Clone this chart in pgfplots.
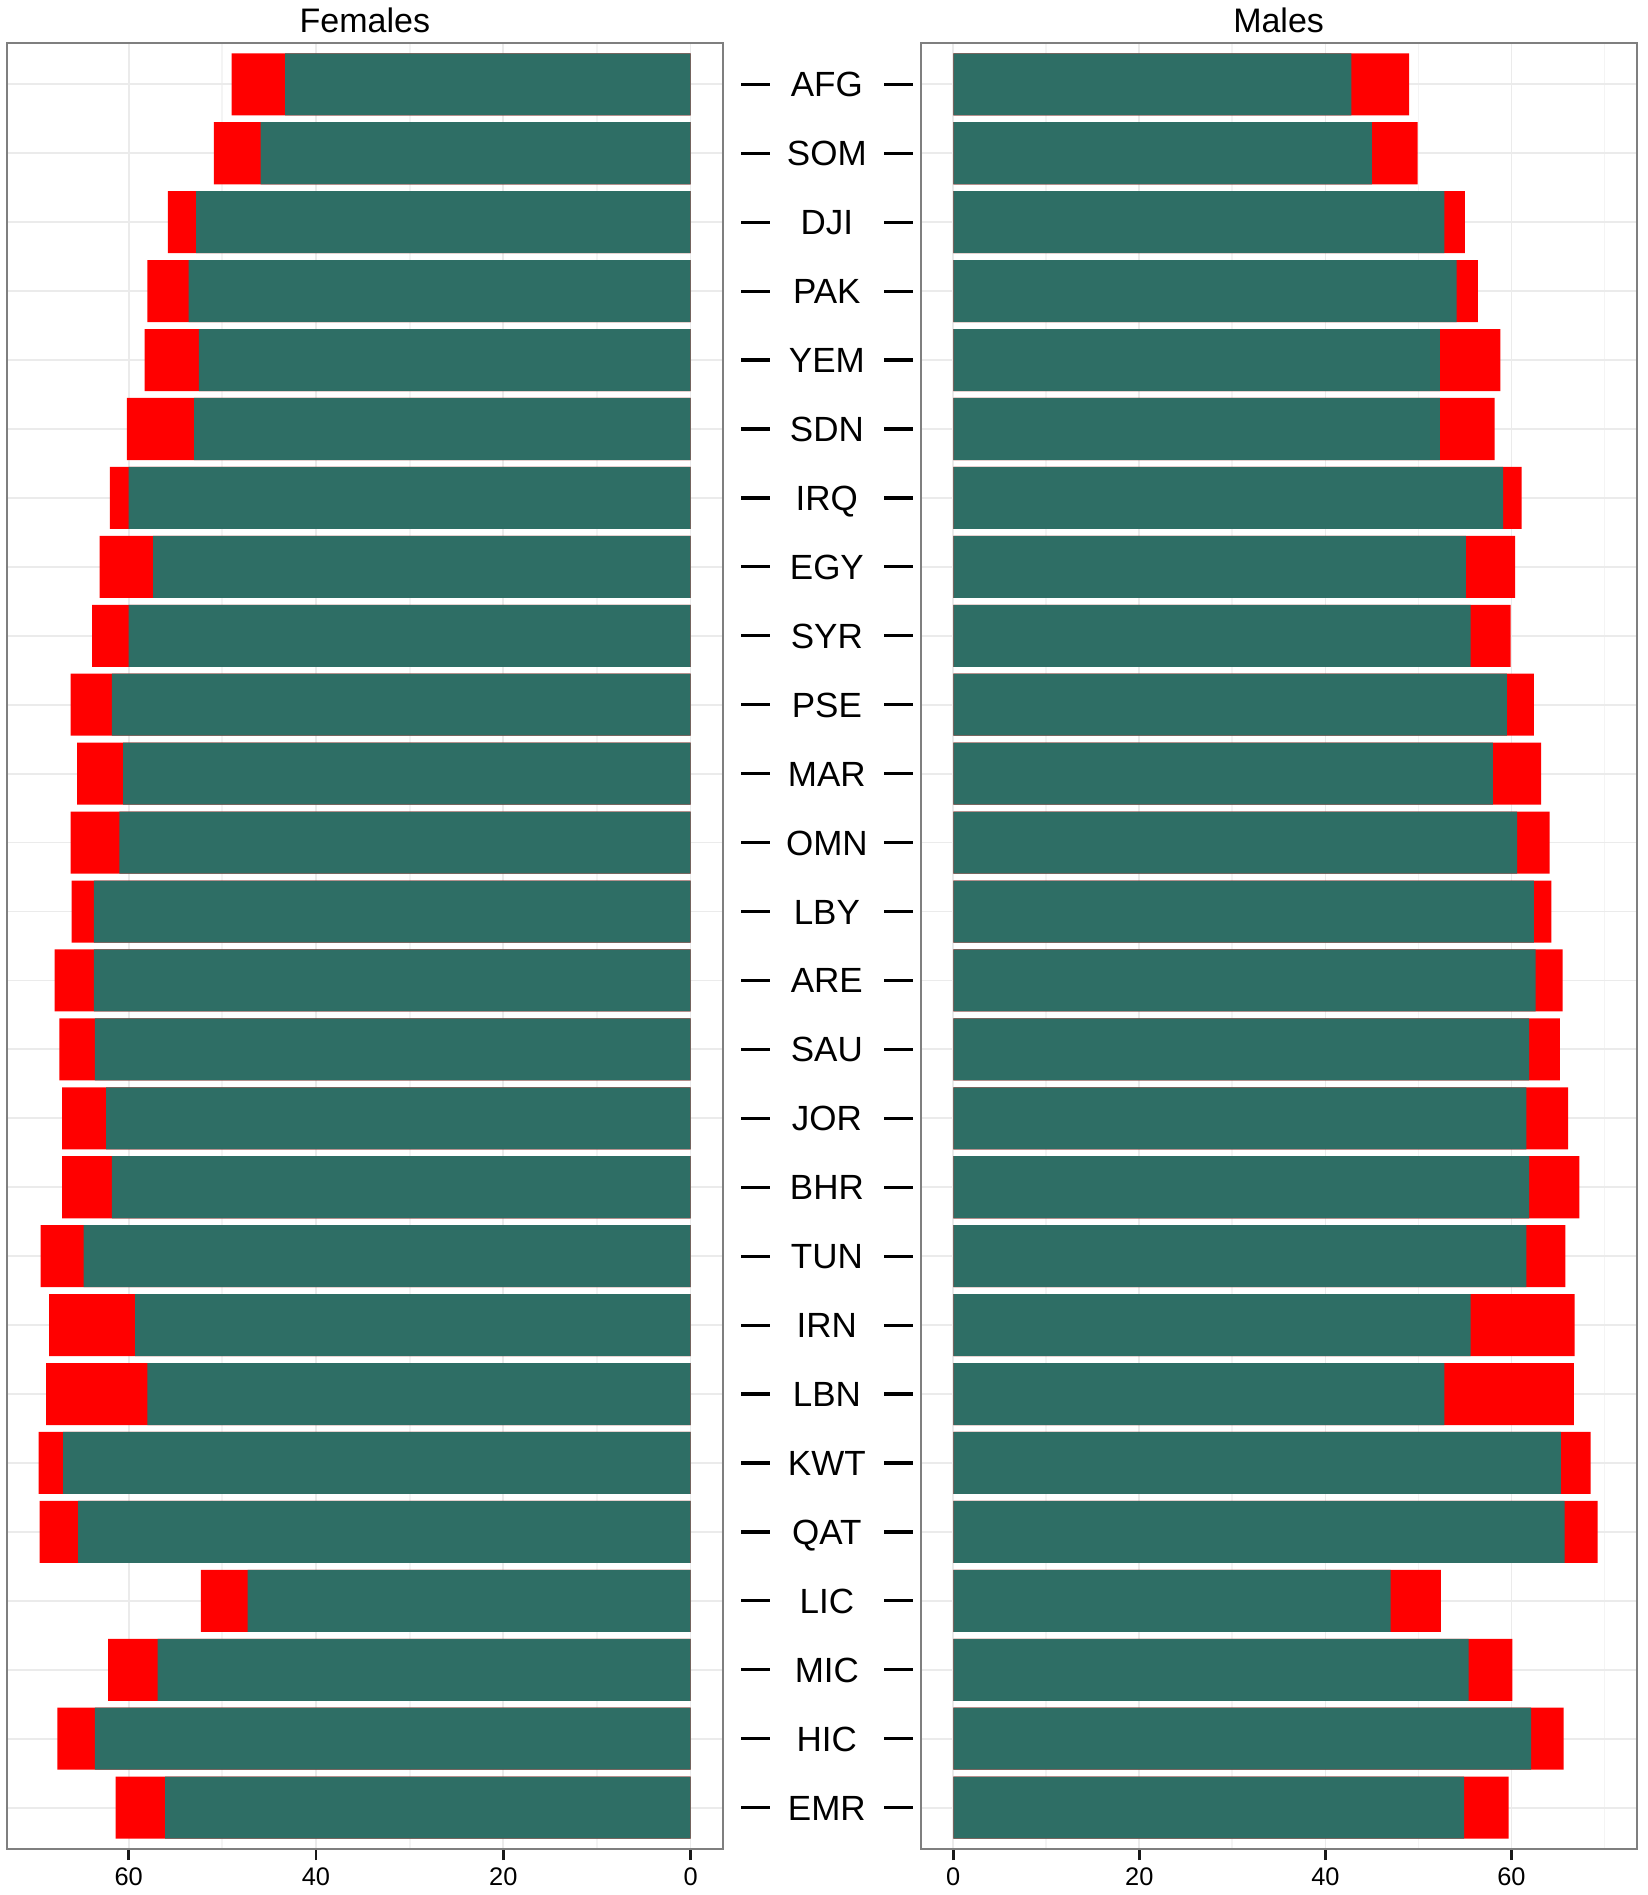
\documentclass[border=0pt]{standalone}
\usepackage{pgfplots}
\pgfplotsset{compat=1.18}
\usepackage{pgfplotstable}
\usepackage{fontspec}
\setmainfont{Liberation Sans}
\definecolor{hgreen}{HTML}{2E6E65}
\definecolor{gridmaj}{HTML}{EBEBEB}
\definecolor{gridmin}{HTML}{F4F4F4}
\definecolor{frame}{HTML}{7F7F7F}

% y: position (1 = bottom); fh/ft: females healthy/total; mh/mt: males healthy/total
\pgfplotstableread{
y  fh   ft   mh   mt
26 43.3 49.0 42.8 49.0
25 45.9 50.9 45.0 49.9
24 52.8 55.8 52.8 55.0
23 53.6 58.0 54.1 56.4
22 52.5 58.3 52.3 58.8
21 53.0 60.2 52.3 58.2
20 60.0 62.0 59.1 61.1
19 57.4 63.1 55.1 60.4
18 60.0 63.9 55.6 59.9
17 61.8 66.2 59.5 62.4
16 60.6 65.5 58.0 63.2
15 61.0 66.2 60.6 64.1
14 63.7 66.1 62.4 64.3
13 63.7 67.9 62.6 65.5
12 63.6 67.4 61.9 65.2
11 62.4 67.1 61.6 66.1
10 61.8 67.1 61.9 67.3
9  64.8 69.4 61.6 65.8
8  59.3 68.5 55.6 66.8
7  58.0 68.8 52.8 66.7
6  67.0 69.6 65.3 68.5
5  65.4 69.5 65.7 69.25
4  47.3 52.3 47.0 52.4
3  56.9 62.2 55.4 60.1
2  63.6 67.6 62.1 65.6
1  56.1 61.4 54.9 59.7
}\data

\pgfplotsset{
  panel/.style={
    scale only axis, anchor=south west,
    width=357.9pt, height=903pt,
    ymin=0.4, ymax=26.6,
    ytick={1,...,26}, yticklabels={},
    ytick style={draw=none},
    xtick={0,20,40,60},
    minor tick length=0pt,
    xmajorgrids, xminorgrids, ymajorgrids,
    major grid style={gridmaj, line width=0.9pt},
    minor grid style={gridmin, line width=0.9pt},
    axis line style={frame, line width=1pt},
    tick align=outside, xtick pos=bottom,
    major tick length=5.6pt,
    x tick style={black!90, line width=1.3pt},
    /pgf/number format/assume math mode=true,
    xticklabel style={font=\fontsize{12.7}{14}\selectfont, black},
    every axis title/.style={font=\fontsize{17}{20}\selectfont, at={(0.5,1)}, anchor=base, yshift=5pt, inner sep=0pt},
  },
  bars/.style={xbar, bar width=0.9, bar shift=0pt, draw=none},
}

\begin{document}
\begin{tikzpicture}
\path[use as bounding box] (0,0) rectangle (824pt,947.5pt);

\begin{axis}[panel, at={(3.5pt,23pt)}, x dir=reverse, xmin=-3.44, xmax=72.99,
  minor xtick={10,30,50}, title={Females}]
  \addplot[bars, fill=red] table[x=ft, y=y]{\data};
  \addplot[bars, fill=hgreen] table[x=fh, y=y]{\data};
\end{axis}

\begin{axis}[panel, at={(460.35pt,23pt)}, xmin=-3.50, xmax=73.44,
  minor xtick={10,30,50,70}, title={Males}]
  \addplot[bars, fill=red] table[x=mt, y=y]{\data};
  \addplot[bars, fill=hgreen] table[x=mh, y=y]{\data};
\end{axis}

\begin{axis}[scale only axis, anchor=south west, at={(370.5pt,23pt)},
  width=85.85pt, height=903pt,
  xmin=0, xmax=1, ymin=0.4, ymax=26.6,
  hide x axis, axis line style={draw=none},
  ytick={1,...,26},
  yticklabels={EMR,HIC,MIC,LIC,QAT,KWT,LBN,IRN,TUN,BHR,JOR,SAU,ARE,LBY,OMN,MAR,PSE,SYR,EGY,IRQ,SDN,YEM,PAK,DJI,SOM,AFG},
  ytick pos=both, tick align=inside, major tick length=14.5pt,
  y tick style={black, line width=1.6pt},
  yticklabel pos=left,
  yticklabel style={font=\fontsize{17.5}{20}\selectfont, anchor=base, xshift=42.925pt, yshift=-6.27pt, inner sep=0pt},
]
  \addplot[draw=none] coordinates {(0.5,1)};
\end{axis}
\end{tikzpicture}
\end{document}
